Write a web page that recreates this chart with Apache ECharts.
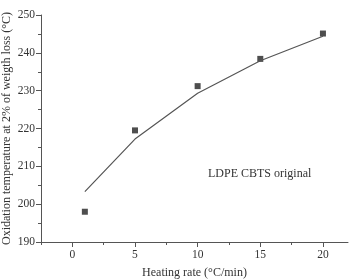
<!DOCTYPE html>
<html>
<head>
<meta charset="utf-8">
<script src="https://cdn.jsdelivr.net/npm/echarts@6/dist/echarts.min.js"></script>
<style>
    html, body { margin: 0; padding: 0; background: #fff; }
    #chart { width: 349px; height: 280px; }
</style>
</head>
<body>
<div id="chart"></div>
<script>
// 数据
var heatingRate = [1, 5, 10, 15, 20];
var measured = [198.0, 219.5, 231.2, 238.4, 245.1];   // 方块点
var fitted = [203.3, 217.2, 229.3, 237.9, 244.4];     // 拟合线
var majorTicksX = [0, 5, 10, 15, 20];
var minorTicksX = [-2.5, 2.5, 7.5, 12.5, 17.5];

var font = '"Liberation Serif", "DejaVu Serif", serif';
var ink = '#333';

function pairs(xs, ys) {
    return xs.map(function (x, i) { return [x, ys[i]]; });
}

var myChart = echarts.init(document.getElementById('chart'));
myChart.setOption({
    animation: false,
    grid: { left: 41, right: 1, top: 15, bottom: 38, containLabel: false, outerBoundsMode: 'none' },
    xAxis: [{
        type: 'value',
        min: -2.5,
        max: 22,
        name: 'Heating rate (°C/min)',
        nameLocation: 'middle',
        nameGap: 25,
        nameMoveOverlap: false,
        nameTextStyle: { fontFamily: font, fontSize: 12, color: ink },
        axisLine: { show: true, onZero: false, lineStyle: { color: '#555', width: 1 } },
        axisTick: { show: true, length: 5, customValues: majorTicksX, lineStyle: { color: '#555' } },
        axisLabel: { customValues: majorTicksX, fontFamily: font, fontSize: 11.5, color: ink, margin: 7 },
        splitLine: { show: false }
    }, {
        type: 'value',
        min: -2.5,
        max: 22,
        position: 'bottom',
        axisLine: { show: false, onZero: false },
        axisTick: { show: true, length: 3, customValues: minorTicksX, lineStyle: { color: '#555' } },
        axisLabel: { show: false },
        splitLine: { show: false }
    }],
    yAxis: {
        type: 'value',
        min: 190,
        max: 250,
        interval: 10,
        name: 'Oxidation temperature at 2% of weigth loss (°C)',
        nameLocation: 'middle',
        nameGap: 28,
        nameMoveOverlap: false,
        nameTextStyle: { fontFamily: font, fontSize: 12, color: ink },
        axisLine: { show: true, onZero: false, lineStyle: { color: '#555', width: 1 } },
        axisTick: { show: true, length: 5, lineStyle: { color: '#555' } },
        minorTick: { show: true, splitNumber: 2, length: 3, lineStyle: { color: '#555' } },
        axisLabel: { fontFamily: font, fontSize: 11.5, color: ink, margin: 6 },
        splitLine: { show: false }
    },
    graphic: [{
        type: 'text',
        left: 208,
        top: 168,
        style: { text: 'LDPE CBTS original', font: '12px ' + font, fill: ink }
    }],
    series: [{
        name: 'fit',
        type: 'line',
        xAxisIndex: 0,
        data: pairs(heatingRate, fitted),
        showSymbol: false,
        lineStyle: { color: '#555', width: 1.2 }
    }, {
        name: 'measured',
        type: 'scatter',
        xAxisIndex: 0,
        data: pairs(heatingRate, measured),
        symbol: 'rect',
        symbolSize: 6,
        itemStyle: { color: '#222' }
    }]
});
</script>
</body>
</html>
